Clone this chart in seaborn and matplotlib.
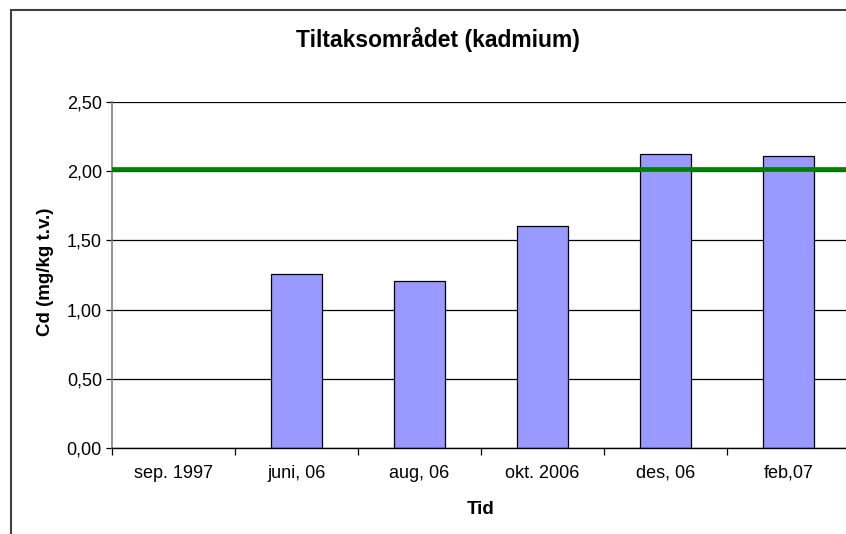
import numpy as np
import pandas as pd
import matplotlib
matplotlib.use("Agg")
import matplotlib.pyplot as plt
import seaborn as sns

# Data
categories = ["sep. 1997", "juni, 06", "aug, 06", "okt. 2006", "des, 06", "feb,07"]
cd_values = [np.nan, 1.26, 1.21, 1.60, 2.12, 2.11]
limit_value = 2.015
yticks = [0.0, 0.5, 1.0, 1.5, 2.0, 2.5]
ytick_labels = ["0,00", "0,50", "1,00", "1,50", "2,00", "2,50"]

sns.set_theme(style="white")
plt.rcParams['font.family'] = ['Liberation Sans', 'DejaVu Sans']
plt.rcParams['text.color'] = 'black'
plt.rcParams['axes.labelcolor'] = 'black'
plt.rcParams['xtick.color'] = 'black'
plt.rcParams['ytick.color'] = 'black'

df = pd.DataFrame({'Tid': categories, 'Cd': cd_values})

fig = plt.figure(figsize=(8.46, 5.34), dpi=100)
ax = fig.add_axes([111.7 / 846, 1 - 448.3 / 534, 738.3 / 846, 346.6 / 534])

sns.barplot(data=df, x='Tid', y='Cd', order=categories, color='#9999FF',
            saturation=1, width=0.41, edgecolor='black', linewidth=0.9, ax=ax)

ax.axhline(limit_value, color='#008000', lw=3.4, zorder=5)

ax.set_ylim(0, 2.5)
ax.set_xlim(-0.5, len(categories) - 0.5)
ax.set_yticks(yticks)
ax.set_yticklabels(ytick_labels, fontsize=13)
ax.yaxis.grid(True, color='black', lw=0.9)
ax.set_axisbelow(True)

# category labels in the middle, ticks between categories
ax.set_xticks(range(len(categories)))
ax.set_xticklabels(categories, fontsize=13)
ax.set_xticks(np.arange(-0.5, len(categories)), minor=True)
ax.tick_params(axis='x', which='major', length=0, pad=12)
ax.tick_params(axis='x', which='minor', length=5, width=0.9, color='black', direction='out', bottom=True)
ax.tick_params(axis='y', length=4, width=0.9, color='black', direction='out', left=True, pad=3)

for s in ['top', 'right']:
    ax.spines[s].set_visible(False)
ax.spines['left'].set_color('#808080')
ax.spines['left'].set_linewidth(1.2)
ax.spines['bottom'].set_color('black')
ax.spines['bottom'].set_linewidth(1.0)

ax.set_xlabel('Tid', fontsize=13.5, fontweight='bold')
ax.xaxis.set_label_coords(0.5, -0.152)
ax.set_ylabel('Cd (mg/kg t.v.)', fontsize=13.5, fontweight='bold')
ax.yaxis.set_label_coords(-0.078, 0.51)

fig.text(438 / 846, 1 - 40 / 534, 'Tiltaksområdet (kadmium)', fontsize=16.5,
         fontweight='bold', ha='center', va='center')

# outer chart border (cut off at right and bottom)
fig.add_artist(plt.Rectangle((11 / 846, -0.1), 1.2, 1.1 - 9.5 / 534,
                             transform=fig.transFigure, fill=False,
                             edgecolor='#404040', lw=1.5))

fig.savefig('out.png', dpi=100)
